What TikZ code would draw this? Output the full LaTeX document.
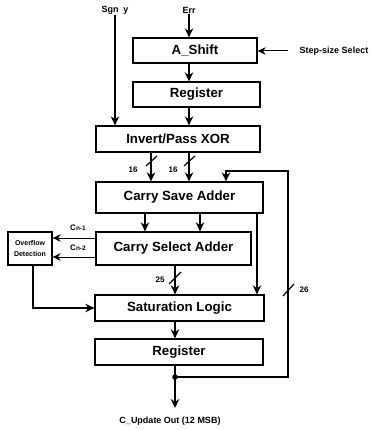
\documentclass[tikz,border=0pt]{standalone}
\usepackage{fontspec}
\setmainfont{Liberation Sans}
\usetikzlibrary{arrows.meta}
\tikzset{
  blk/.style={draw, line width=1.3pt, rectangle, inner sep=0pt, font=\fontsize{13.3}{15}\selectfont\bfseries},
  lbl/.style={inner sep=1pt, font=\fontsize{9}{10}\selectfont\bfseries},
  smalllbl/.style={inner sep=1pt, font=\fontsize{8}{9}\selectfont\bfseries},
  arr/.style={-{Stealth[length=9pt,width=8.5pt]}, line width=1.6pt},
  thinarr/.style={-{Stealth[length=8pt,width=7.5pt]}, line width=1pt},
  fbarr/.style={-{Stealth[length=9pt,width=8.5pt]}, line width=2pt},
  busmark/.style={line width=1.2pt}
}
\begin{document}
\begin{tikzpicture}[x=1pt,y=-1pt]
\useasboundingbox (0,0) rectangle (371,430);
% blocks
\node[blk, minimum width=124pt, minimum height=25pt] (ashift) at (195,50.5) {A\_Shift};
\node[blk, minimum width=127pt, minimum height=25pt] (reg1) at (196.5,94.5) {Register};
\node[blk, minimum width=164pt, minimum height=26pt] (xor) at (178,139) {Invert/Pass XOR};
\node[blk, minimum width=167pt, minimum height=31pt] (csa) at (179.5,197.5) {Carry Save Adder};
\node[blk, minimum width=155pt, minimum height=33pt] (csel) at (173.5,248.5) {Carry Select Adder};
\node[draw, line width=1.3pt, minimum width=44pt, minimum height=33pt, inner sep=0pt, align=center,
      font=\fontsize{7}{11}\selectfont\bfseries] (ovf) at (30,248.5) {Overflow\\Detection};
\node[blk, minimum width=169pt, minimum height=26pt] (sat) at (179.5,308) {Saturation Logic};
\node[blk, minimum width=168pt, minimum height=26pt] (reg2) at (179,352) {Register};
% labels
\node[lbl] (sgn) at (115,10) {Sgn\ \ y};
\node[lbl] (err) at (189,10) {Err};
\node[lbl] (step) at (334,51) {Step-size Select};
\node[lbl] (out) at (170,421) {C\_Update Out (12 MSB)};
\node[smalllbl] (l16a) at (133,170) {16};
\node[smalllbl] (l16b) at (173,170) {16};
\node[smalllbl] (l25) at (160,280) {25};
\node[smalllbl] (l26) at (304,290) {26};
\node[smalllbl] (lc1) at (78,228) {C{\fontsize{6.5}{7}\selectfont n-1}};
\node[smalllbl] (lc2) at (78,248) {C{\fontsize{6.5}{7}\selectfont n-2}};
% helper coordinates
\coordinate (xa) at (189,0);
\coordinate (xb) at (151,0);
\coordinate (xc) at (145,0);
\coordinate (xd) at (200,0);
\coordinate (xe) at (257,0);
\coordinate (xf) at (175,0);
\coordinate (stepin) at (288,51);
\coordinate (fbtop) at (288,171);
\coordinate (fbin) at (226,171);
\coordinate (tap) at (175,377);
\coordinate (fbbot) at (288,377);
\coordinate (outend) at (175,408);
\coordinate (ovfout) at (33,0);
% connectors
\draw[arr] (err.south) -- (err.south |- ashift.north);
\draw[arr] (xa |- ashift.south) -- (xa |- reg1.north);
\draw[arr] (xa |- reg1.south) -- (xa |- xor.north);
\draw[arr, line width=1.2pt] (sgn.south) -- (sgn.south |- xor.north);
\draw[thinarr] (stepin) -- (ashift.east |- stepin);
\draw[arr] (xb |- xor.south) -- (xb |- csa.north);
\draw[arr] (xa |- xor.south) -- (xa |- csa.north);
\draw[busmark] (146,166) -- (157,156);
\draw[busmark] (184,166) -- (195,156);
\draw[arr] (xc |- csa.south) -- (xc |- csel.north);
\draw[arr] (xd |- csa.south) -- (xd |- csel.north);
\draw[arr, line width=1.3pt] (xe |- csa.south) -- (xe |- sat.north);
\draw[thinarr] (csel.west |- 0,238) -- (ovf.east |- 0,238);
\draw[thinarr] (csel.west |- 0,257) -- (ovf.east |- 0,257);
\draw[arr] (xf |- csel.south) -- (xf |- sat.north);
\draw[busmark] (169,284) -- (181,272);
\draw[fbarr] (ovfout |- ovf.south) |- (sat.west);
\draw[arr] (xf |- sat.south) -- (xf |- reg2.north);
\draw[arr, line width=2pt] (xf |- reg2.south) -- (outend);
\draw[fbarr] (tap) -- (fbbot) -- (fbtop) -- (fbin) -- (fbin |- csa.north);
\draw[busmark] (283,296) -- (294,284);
\fill (tap) circle (2.8pt);
\end{tikzpicture}
\end{document}
